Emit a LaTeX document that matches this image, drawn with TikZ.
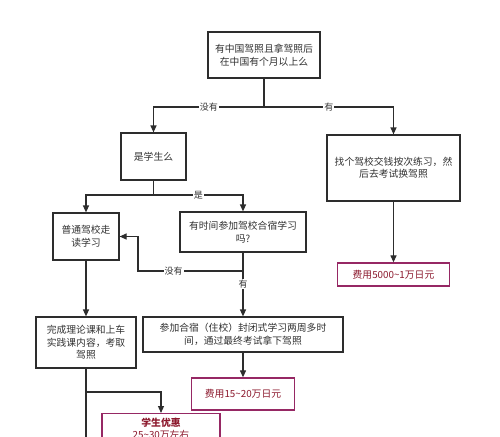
\documentclass[tikz,border=0pt]{standalone}
\usepackage{fontspec}
\setmainfont{Noto Sans CJK SC}
\usetikzlibrary{arrows.meta}
\definecolor{ln}{RGB}{45,45,45}
\definecolor{tx}{RGB}{50,50,50}
\definecolor{costb}{RGB}{150,40,100}
\definecolor{costt}{RGB}{140,25,45}
\tikzset{
  box/.style={draw=ln, line width=1.2pt, fill=white, align=center, text=tx,
    font=\fontsize{9.8}{12.5}\selectfont, inner sep=0pt},
  cost/.style={draw=costb, line width=1.3pt, fill=white, align=center, text=costt,
    font=\fontsize{9.8}{12.5}\selectfont, inner sep=0pt},
  conn/.style={draw=ln, line width=1.2pt},
  arr/.style={conn, -{Triangle[length=7pt,width=6pt]}},
  lab/.style={fill=white, text=tx, inner sep=1pt, font=\fontsize{9}{10}\selectfont},
}
\begin{document}
\begin{tikzpicture}[x=1pt,y=-1pt]
\useasboundingbox (0,0) rectangle (500,436);
\clip (0,0) rectangle (500,436);
\fill[white] (0,0) rectangle (500,436);

\node[box, minimum width=112pt, minimum height=46pt] (b1) at (264,55) {有中国驾照且拿驾照后\\在中国有个月以上么};
\node[box, minimum width=65pt, minimum height=47pt] (b2) at (153.5,156.5) {是学生么};
\node[box, minimum width=133pt, minimum height=66pt] (b3) at (393.5,168) {找个驾校交钱按次练习，然\\后去考试换驾照};
\node[cost, minimum width=112pt, minimum height=23pt] (c1) at (393.5,274.5) {费用5000\textasciitilde1万日元};
\node[box, minimum width=66pt, minimum height=47pt] (b4) at (86,236.5) {普通驾校走\\读学习};
\node[box, minimum width=126pt, minimum height=40pt] (b5) at (243,232) {有时间参加驾校合宿学习\\吗?};
\node[box, minimum width=100pt, minimum height=51pt] (b6) at (86,342.5) {完成理论课和上车\\实践课内容，考取\\驾照};
\node[box, minimum width=200pt, minimum height=35pt] (b7) at (243,334.5) {参加合宿（住校）封闭式学习两周多时\\间，通过最终考试拿下驾照};
\node[cost, minimum width=103pt, minimum height=32pt] (c2) at (243,394) {费用15\textasciitilde20万日元};
\node[cost, anchor=north, minimum width=118pt, inner ysep=4pt] (b8) at (161,413) {{\bfseries 学生优惠}\\25\textasciitilde30万左右};

\coordinate (j1) at (264,107);
\coordinate (j2) at (153.5,195);
\coordinate (j3) at (243,271);
\coordinate (k3) at (138,271);
\coordinate (j4) at (86,392);
\coordinate (e6) at (86,445);

\draw[conn] (b1.south) -- (j1);
\draw[arr] (j1) -| node[lab, pos=0.25]{没有} (b2.north);
\draw[arr] (j1) -| node[lab, pos=0.25]{有} (b3.north);
\draw[arr] (b3.south) -- (c1.north);
\draw[conn] (b2.south) -- (j2);
\draw[arr] (j2) -| (b4.north);
\draw[arr] (j2) -| node[lab, pos=0.25]{是} (b5.north);
\draw[arr] (b5.south) -- node[lab, pos=0.49]{有} (b7.north);
\draw[arr] (j3) -- node[lab, pos=0.66]{没有} (k3) |- (b4.east);
\draw[arr] (b4.south) -- (b6.north);
\draw[arr] (b7.south) -- (c2.north);
\draw[conn] (b6.south) -- (e6);
\draw[arr] (j4) -| (b8.north);
\end{tikzpicture}
\end{document}
